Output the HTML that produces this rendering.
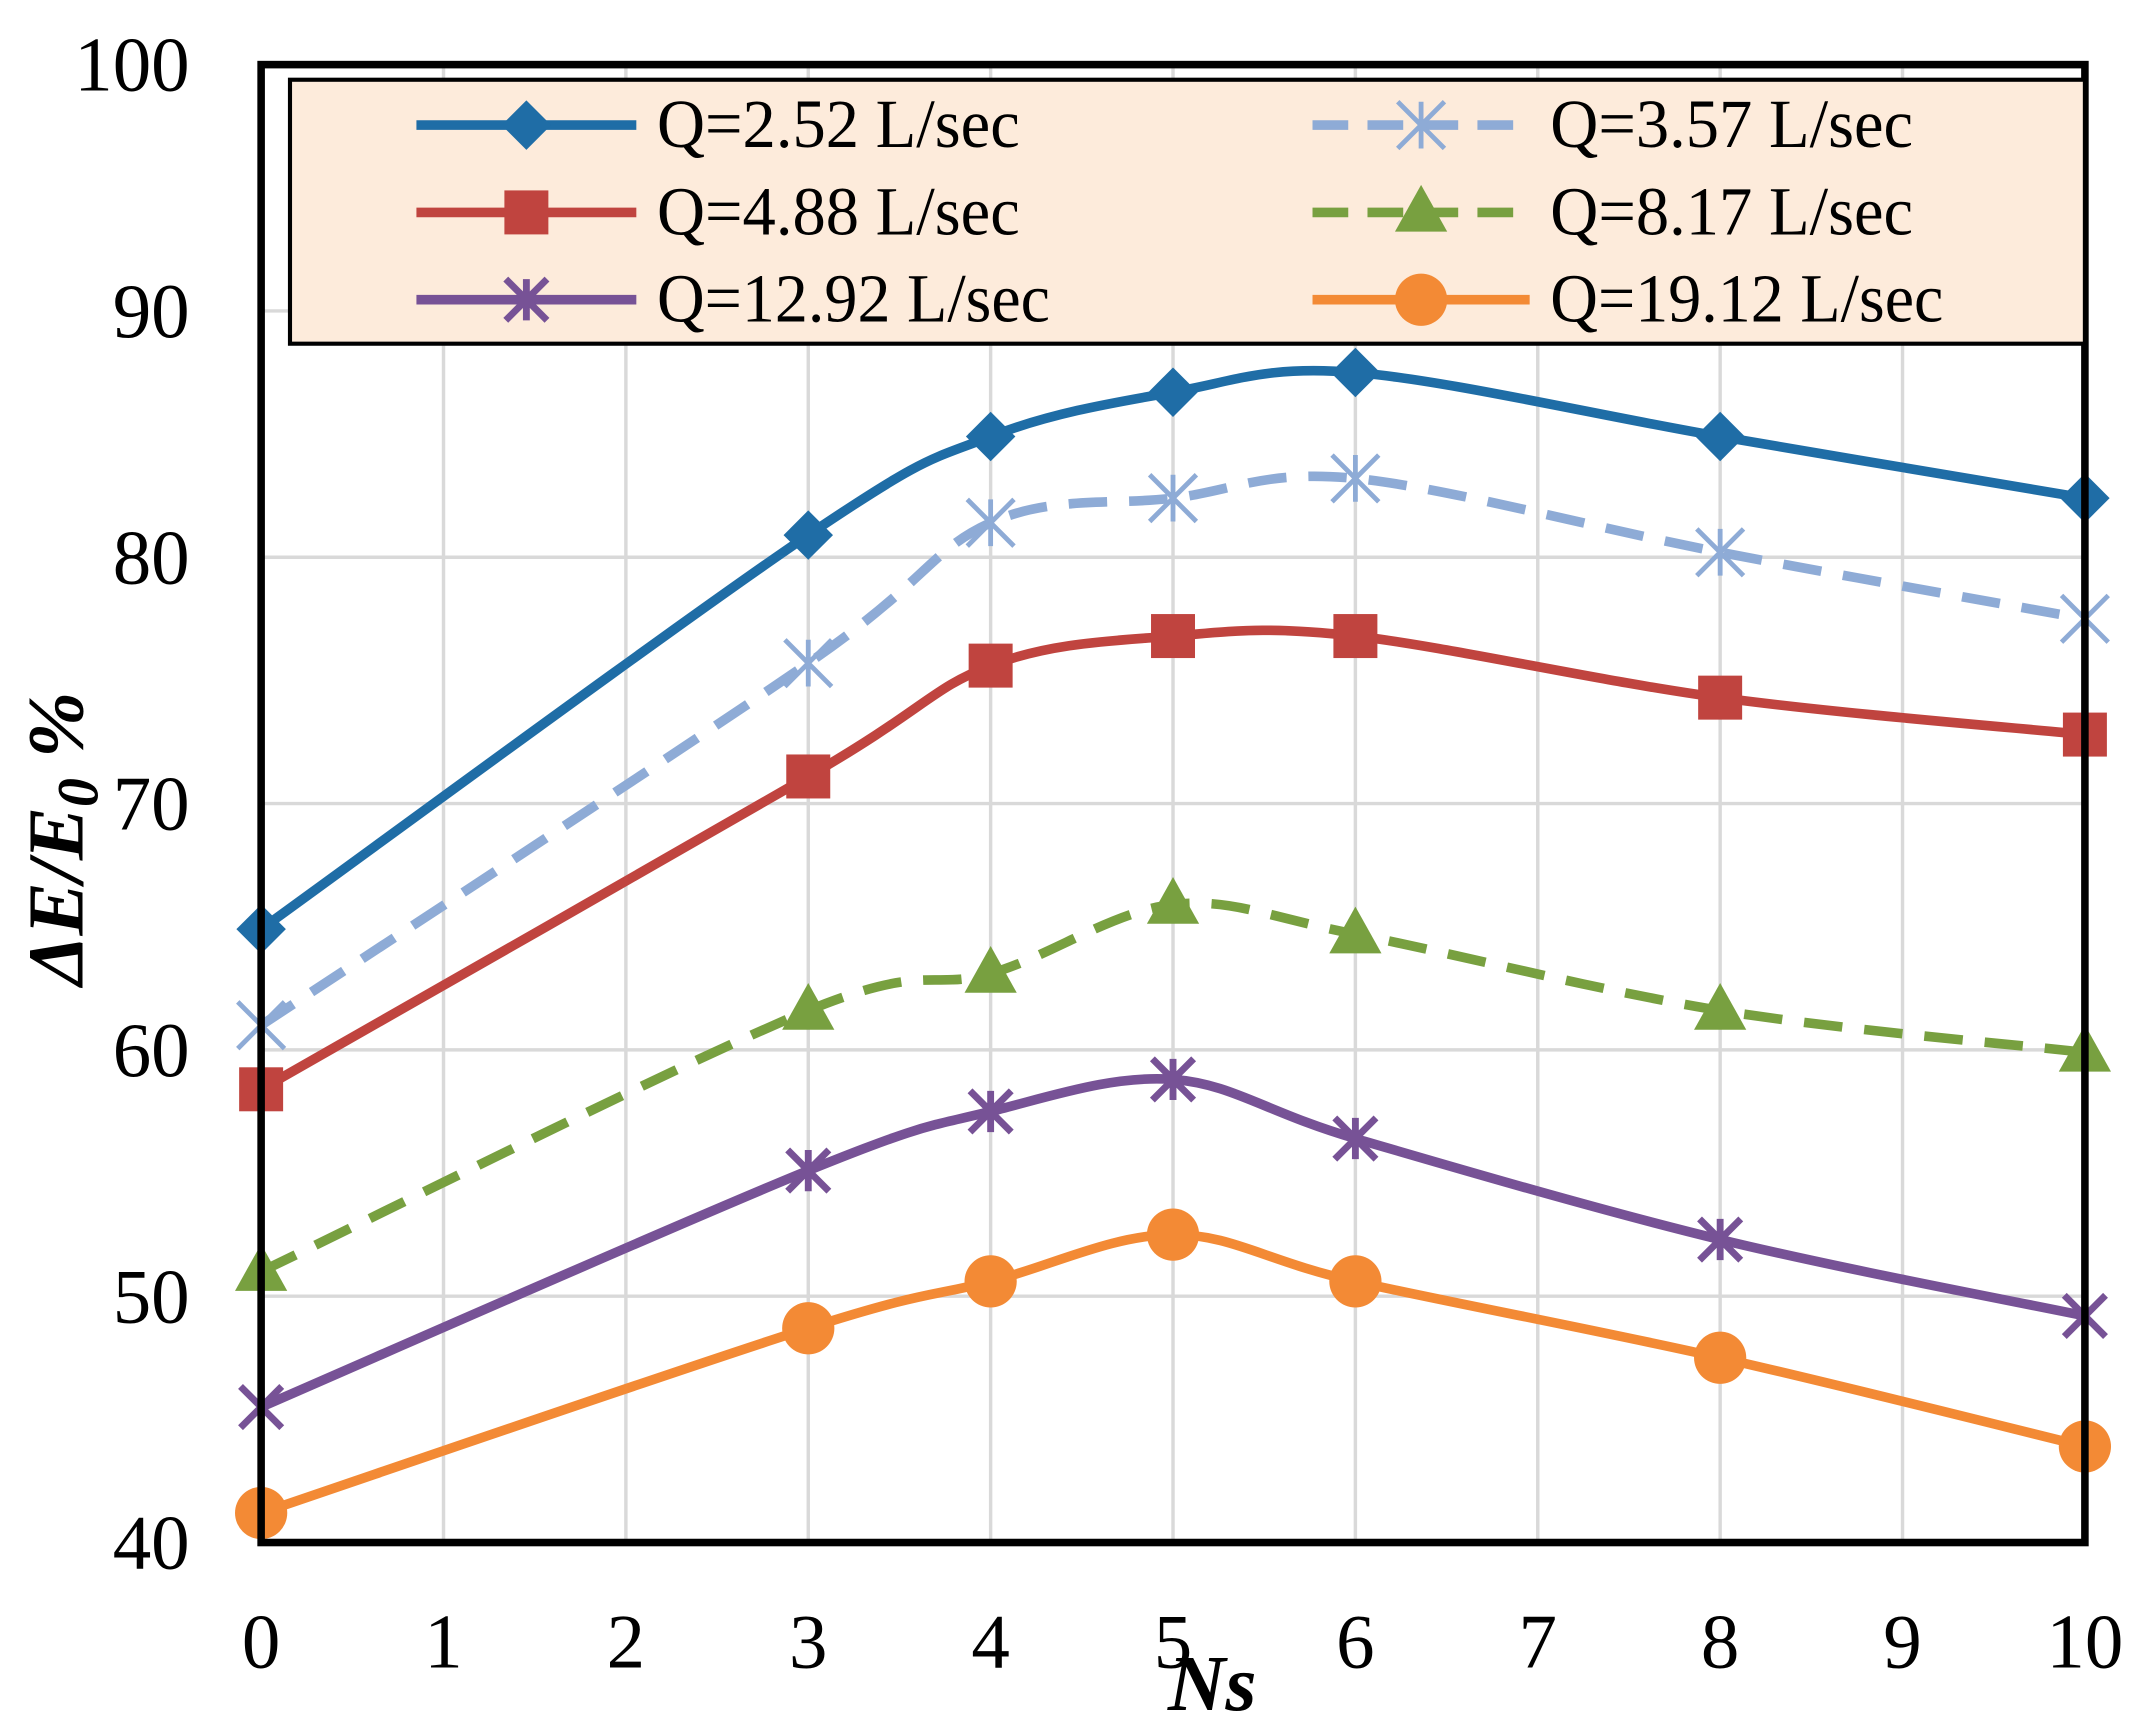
<!DOCTYPE html>
<html><head><meta charset="utf-8"><style>html,body{margin:0;padding:0;background:#fff}svg{display:block}</style></head>
<body>
<svg id="chart" width="2144" height="1724" viewBox="0 0 1560 1254" preserveAspectRatio="none" xmlns="http://www.w3.org/2000/svg" font-family="'Liberation Serif', serif">
<rect width="1560" height="1254" fill="#fff"/>
<g id="grid"></g>
<g id="series"></g>
<rect x="190" y="47" width="1327" height="1075" fill="none" stroke="#000" stroke-width="5.5"/>
<g id="ticks"></g>
<text x="882" y="1244" font-size="58" font-weight="bold" font-style="italic" text-anchor="middle">Ns</text>
<text transform="translate(60,610) rotate(-90)" font-size="58" font-weight="bold" font-style="italic" text-anchor="middle">ΔE/E<tspan font-size="42" dy="11">0</tspan><tspan dy="-11"> %</tspan></text>
<g id="legend"></g>
</svg>
<script>
const xs = [0,3,4,5,6,8,10];
const q252 = [64.9,80.9,84.9,86.7,87.5,84.9,82.4];
const q357 = [61.0,75.7,81.4,82.4,83.2,80.2,77.5];
const q488 = [58.4,71.1,75.6,76.8,76.8,74.3,72.8];
const q817 = [51.0,61.6,63.1,65.9,64.7,61.6,59.9];
const q1292 = [45.5,55.1,57.5,58.8,56.4,52.3,49.2];
const q1912 = [41.2,48.7,50.6,52.5,50.6,47.5,43.9];
const xTicks = [0,1,2,3,4,5,6,7,8,9,10];
const yTicks = [40,50,60,70,80,90,100];
const seriesNames = ["Q=2.52 L/sec","Q=3.57 L/sec","Q=4.88 L/sec","Q=8.17 L/sec","Q=12.92 L/sec","Q=19.12 L/sec"];

const NS="http://www.w3.org/2000/svg";
const X=v=>190+v*132.7, Y=v=>1122-(v-40)*17.917;
function mk(tag,attrs,parent){const e=document.createElementNS(NS,tag);for(const k in attrs)e.setAttribute(k,attrs[k]);parent.appendChild(e);return e;}
const grid=document.getElementById('grid'),ticks=document.getElementById('ticks'),ser=document.getElementById('series'),leg=document.getElementById('legend');
xTicks.forEach(t=>{const l=mk('line',{x1:X(t),x2:X(t),y1:47,y2:1122,stroke:'#d9d9d9','stroke-width':2.5},grid);


const tx=mk('text',{x:X(t),y:1213,'font-size':56,'text-anchor':'middle'},ticks);tx.textContent=t;

});
yTicks.forEach(t=>{const l=mk('line',{x1:190,x2:1517,y1:Y(t),y2:Y(t),stroke:'#d9d9d9','stroke-width':2.5},grid);


const tx=mk('text',{x:138,y:Y(t)+19,'font-size':56,'text-anchor':'end'},ticks);tx.textContent=t;

});

function smooth(pts){let d=`M${pts[0][0]},${pts[0][1]}`;const t=0.33;
for(let i=0;i<pts.length-1;i++){const p0=pts[Math.max(i-1,0)],p1=pts[i],p2=pts[i+1],p3=pts[Math.min(i+2,pts.length-1)];
const c1=[p1[0]+(p2[0]-p0[0])*t/2,p1[1]+(p2[1]-p0[1])*t/2],c2=[p2[0]-(p3[0]-p1[0])*t/2,p2[1]-(p3[1]-p1[1])*t/2];
d+=` C${c1[0]},${c1[1]} ${c2[0]},${c2[1]} ${p2[0]},${p2[1]}`;}return d;}
function marker(type,x,y,color,g){let e;
if(type==='diamond')e=mk('path',{d:`M${x},${y-18}L${x+18},${y}L${x},${y+18}L${x-18},${y}Z`,fill:color},g);
else if(type==='square')e=mk('rect',{x:x-16,y:y-16,width:32,height:32,fill:color},g);
else if(type==='triangle')e=mk('path',{d:`M${x},${y-20}L${x+19},${y+14}L${x-19},${y+14}Z`,fill:color},g);
else if(type==='circle')e=mk('circle',{cx:x,cy:y,r:19,fill:color},g);
else{const r=type==='star'?17:15;e=mk('path',{d:`M${x-r},${y-r}L${x+r},${y+r}M${x-r},${y+r}L${x+r},${y-r}M${x},${y-r}L${x},${y+r}`,stroke:color,'stroke-width':type==='star'?3.5:5,fill:'none'},g);}

}
const defs=[[q252,'#1f6da6','diamond',false],[q357,'#8eabd6','star',true],[q488,'#c0443f','square',false],[q817,'#78a040','triangle',true],[q1292,'#775296','xstar',false],[q1912,'#f38a35','circle',false]];
defs.forEach((s,i)=>{const g=mk('g',{},ser);


const pts=xs.map((x,j)=>[X(x),Y(s[0][j])]);
mk('path',{d:smooth(pts),fill:'none',stroke:s[1],'stroke-width':7,'stroke-dasharray':s[3]?'28 16':'none'},g);
pts.forEach(p=>marker(s[2],p[0],p[1],s[1],g));});

const lb=mk('rect',{x:211,y:58,width:1306,height:192,fill:'#fdebdb',stroke:'#000','stroke-width':3},leg);


defs.forEach((s,i)=>{const col=i%2,row=Math.floor(i/2);const x1=col?955:303,x2=col?1113:463,y=91+row*63.5;
const g=mk('g',{},leg);


mk('line',{x1:x1,x2:x2,y1:y,y2:y,stroke:s[1],'stroke-width':7,'stroke-dasharray':s[3]?'26 14':'none'},g);
marker(s[2],(x1+x2)/2,y,s[1],g);
const t=mk('text',{x:x2+15,y:y+16,'font-size':50,textLength:seriesNames[i].length*22,lengthAdjust:'spacingAndGlyphs'},g);t.textContent=seriesNames[i];});
</script>
</body></html>
